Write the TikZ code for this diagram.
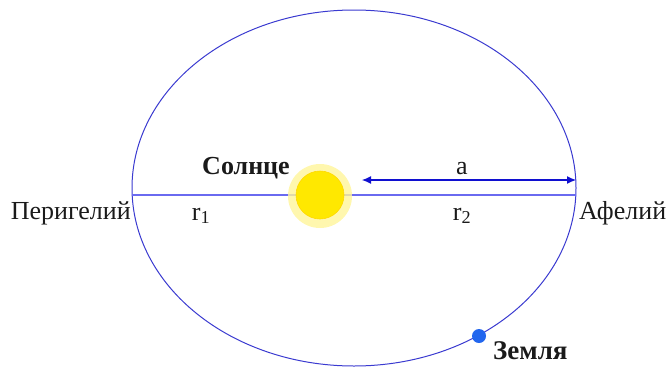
\documentclass[tikz,border=0pt]{standalone}
\usepackage{fontspec}
\setmainfont{Liberation Serif}
\usetikzlibrary{arrows.meta}
\definecolor{kepOrbit}{HTML}{3A3AD0}
\definecolor{kepAxis}{HTML}{6A6AF0}
\definecolor{kepArrow}{HTML}{1010D0}
\definecolor{kepSun}{HTML}{FFE800}
\definecolor{kepGlow}{HTML}{FFF59A}
\definecolor{kepEarth}{HTML}{2266EE}
\definecolor{kepInk}{HTML}{1A1A1A}
\tikzset{
  every picture/.style={font=\fontsize{26}{30}\selectfont, text=kepInk},
  kep orbit/.style={draw=kepOrbit, line width=1pt},
  kep axis/.style={draw=kepAxis, line width=1.1pt},
  kep arrow/.style={{Latex[length=9pt,width=8pt]}-{Latex[length=9pt,width=8pt]},
    draw=kepArrow, line width=1.1pt},
  kep label/.style={inner sep=0pt},
  kep bold/.style={kep label, font=\fontsize{26}{30}\selectfont\bfseries}
}
\begin{document}
\begin{tikzpicture}[x=1pt,y=-1pt]
  \useasboundingbox (0,0) rectangle (668,367);
  \coordinate (C) at (354,188);
  \coordinate (peri) at (132,195); \coordinate (aph) at (576,195);
  \coordinate (aL) at (362,180); \coordinate (aR) at (576,180);
  % orbit and major axis
  \draw[kep orbit] (C) ellipse [x radius=222, y radius=178];
  \draw[kep axis] (peri) -- (aph);
  \draw[kep arrow] (aL) -- (aR);
  % sun
  \fill[kepGlow, opacity=0.8] (320,196) circle (32);
  \node[circle, fill=kepSun, draw=kepSun!85!orange, line width=0.6pt,
    minimum size=48pt, inner sep=0pt] (sun) at (320,195) {};
  % earth
  \node[circle, fill=kepEarth, minimum size=14pt, inner sep=0pt] (earth) at (479,336) {};
  % labels
  \node[kep bold] (sunlbl) at (246,168) {Солнце};
  \node[kep bold, anchor=west, font=\fontsize{27}{30}\selectfont\bfseries] (earthlbl) at (493,351) {Земля};
  \node[kep label, anchor=east] (perilbl) at (131,213) {Перигелий};
  \node[kep label, anchor=west] (aphlbl) at (579,213) {Афелий};
  \node[kep label] (albl) at (462,169) {a};
  \node[kep label] (r1) at (201,216) {r\textsubscript{1}};
  \node[kep label] (r2) at (462,216) {r\textsubscript{2}};
\end{tikzpicture}
\end{document}
